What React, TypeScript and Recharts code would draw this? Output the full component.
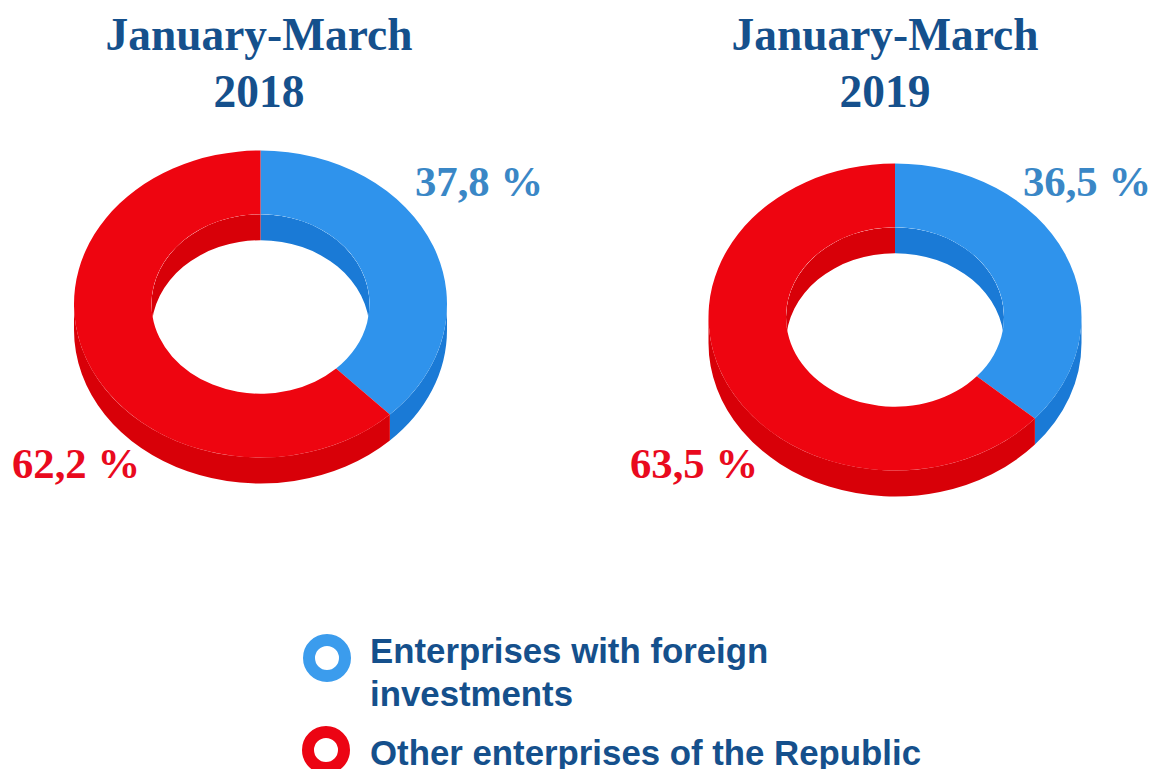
import React from 'react';
import { PieChart, Pie, Legend } from 'recharts';

const categories = ['Enterprises with foreign investments', 'Other enterprises of the Republic'];
const values2018 = [37.8, 62.2];
const values2019 = [36.5, 63.5];
const faceColors = ['#2f93ec', '#ee0510'];
const wallColors = ['#1a7ad6', '#d80008'];

const NAVY = '#15508c';
const SERIF = '"Liberation Serif", serif';
const SANS = '"Liberation Sans", sans-serif';
const Y_RATIO = 0.823;
const DEPTH = 26;

const buildRows = (values: number[]) =>
  categories.map((name, i) => ({ name, value: values[i], fill: faceColors[i], wall: wallColors[i] }));

const pt = (cx: number, cy: number, r: number, a: number): [number, number] => {
  const t = (a * Math.PI) / 180;
  return [cx + r * Math.cos(t), cy - r * Y_RATIO * Math.sin(t)];
};

const arcTo = (cx: number, cy: number, r: number, from: number, to: number) => {
  const [x, y] = pt(cx, cy, r, to);
  const large = Math.abs(to - from) > 180 ? 1 : 0;
  const sweep = to < from ? 1 : 0;
  return `A${r} ${r * Y_RATIO} 0 ${large} ${sweep} ${x} ${y}`;
};

const band = (cx: number, cy: number, r: number, from: number, to: number) => {
  const [sx, sy] = pt(cx, cy, r, from);
  const [ex, ey] = pt(cx, cy + DEPTH, r, to);
  return `M${sx} ${sy}${arcTo(cx, cy, r, from, to)}L${ex} ${ey}${arcTo(cx, cy + DEPTH, r, to, from)}Z`;
};

const clipRange = (a: number, b: number, hi: number, lo: number): [number, number] | null => {
  const s = Math.min(a, hi);
  const e = Math.max(b, lo);
  return s > e ? [s, e] : null;
};

const DonutSlice = (props: any) => {
  const { cx, cy, innerRadius: ri, outerRadius: ro, startAngle: a, endAngle: b, fill, payload } = props;
  const wall = payload?.wall ?? props.wall;
  const clipId = `hole-${Math.round(cx)}-${Math.round(a)}`;
  const outer = clipRange(a, b, 0, -180);
  const inners = [clipRange(a, b, 180, 0), clipRange(a, b, -180, -360)].filter(Boolean) as [number, number][];
  const [ox1, oy1] = pt(cx, cy, ro, a);
  const [ix2, iy2] = pt(cx, cy, ri, b);
  const face = `M${ox1} ${oy1}${arcTo(cx, cy, ro, a, b)}L${ix2} ${iy2}${arcTo(cx, cy, ri, b, a)}Z`;
  return (
    <g>
      <clipPath id={clipId}>
        <ellipse cx={cx} cy={cy} rx={ri} ry={ri * Y_RATIO} />
      </clipPath>
      {outer && <path d={band(cx, cy, ro, outer[0], outer[1])} fill={wall} />}
      {inners.map(([s, e]) => (
        <path key={s} d={band(cx, cy, ri, s, e)} fill={wall} clipPath={`url(#${clipId})`} />
      ))}
      <path d={face} fill={fill} />
    </g>
  );
};

const LegendContent = () => (
  <svg width={1152} height={769} style={{ display: 'block' }}>
    <circle cx={327} cy={658} r={18} fill="none" stroke="#3b9ced" strokeWidth={12} />
    <circle cx={326} cy={750} r={18} fill="none" stroke="#ec0413" strokeWidth={12} />
    <g fontFamily={SANS} fontWeight={700} fontSize={34.8} fill={NAVY}>
      <text x={370} y={663}>Enterprises with foreign</text>
      <text x={370} y={706}>investments</text>
      <text x={370} y={765}>Other enterprises of the Republic</text>
    </g>
  </svg>
);

const Title = ({ x, lines }: { x: number; lines: string[] }) => (
  <g fontFamily={SERIF} fontWeight={700} fontSize={45.4} fill={NAVY} textAnchor="middle">
    <text x={x} y={50}>{lines[0]}</text>
    <text x={x} y={107}>{lines[1]}</text>
  </g>
);

const Pct = ({ x, y, color, children }: { x: number; y: number; color: string; children: string }) => (
  <text x={x} y={y} fontFamily={SERIF} fontWeight={700} fontSize={42.7} fill={color}>{children}</text>
);

export default function App() {
  return (
    <div style={{ position: 'absolute', left: 0, top: 0, width: 1152, height: 769, overflow: 'hidden', background: '#fff' }}>
      <PieChart width={1152} height={769} margin={{ top: 0, right: 0, bottom: 0, left: 0 }}>
        <Pie
          data={buildRows(values2018)}
          dataKey="value"
          nameKey="name"
          cx={260.5}
          cy={304}
          innerRadius={109}
          outerRadius={186.5}
          startAngle={90}
          endAngle={-270}
          stroke="none"
          shape={DonutSlice}
          isAnimationActive={false}
        />
        <Pie
          data={buildRows(values2019)}
          dataKey="value"
          nameKey="name"
          cx={895}
          cy={317}
          innerRadius={109}
          outerRadius={186.5}
          startAngle={90}
          endAngle={-270}
          stroke="none"
          shape={DonutSlice}
          isAnimationActive={false}
        />
        <Legend
          content={LegendContent}
          wrapperStyle={{ position: 'absolute', left: 0, top: 0, width: 1152, height: 769, pointerEvents: 'none' }}
        />
        <Title x={259} lines={['January-March', '2018']} />
        <Title x={885} lines={['January-March', '2019']} />
        <Pct x={415} y={196} color="#3a87c6">{`${String(values2018[0]).replace('.', ',')} %`}</Pct>
        <Pct x={12} y={478} color="#e90a1e">{`${String(values2018[1]).replace('.', ',')} %`}</Pct>
        <Pct x={1023} y={196} color="#3a87c6">{`${String(values2019[0]).replace('.', ',')} %`}</Pct>
        <Pct x={630} y={478} color="#e90a1e">{`${String(values2019[1]).replace('.', ',')} %`}</Pct>
      </PieChart>
    </div>
  );
}
